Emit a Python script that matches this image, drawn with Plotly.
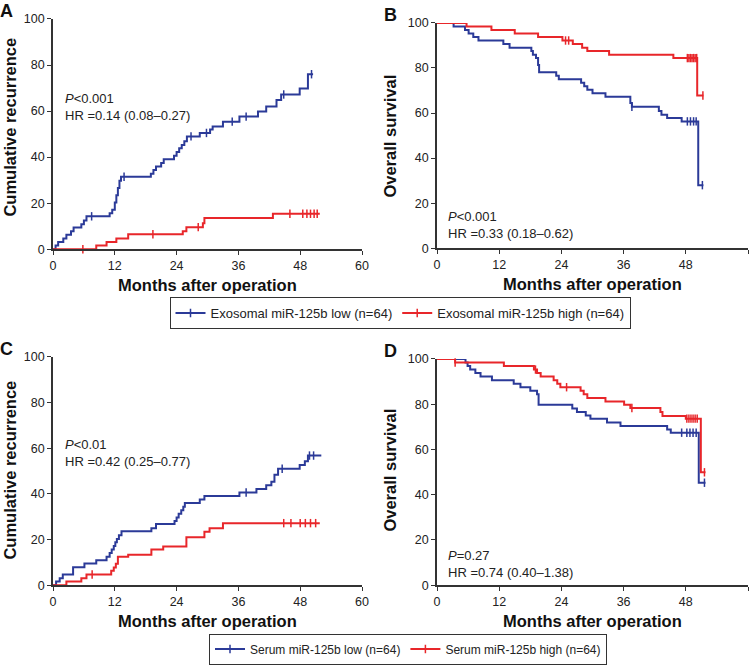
"""
Kaplan-Meier style panels: recurrence and survival by miR-125b level
"""
import plotly.graph_objects as go

W, H = 754, 665
BLUE = '#2b3a98'
RED = '#e8262a'
FONT = 'Arial, Liberation Sans, sans-serif'

# Panel A - cumulative recurrence, exosomal miR-125b
a_low_t = [0, 0.5, 1, 2, 2.6, 3.5, 4, 5.5, 6, 6.5, 11, 11.5, 12, 12.3, 12.6, 12.9, 13.2,
           19, 19.5, 20, 21, 21.5, 23.5, 24, 24.5, 25, 25.5, 26, 28.5, 30.5, 31, 33,
           36.2, 39.8, 41.4, 43.4, 44.3, 47.9, 49.5, 50.5]
a_low_v = [0, 1.6, 3.1, 4.7, 6.3, 7.8, 9.4, 10.9, 12.5, 14.3, 15.6, 17.2, 20.3, 23.4, 26.6, 29.7, 31.5,
           32.8, 34.4, 35.9, 37.5, 39.1, 40.6, 42.2, 43.8, 45.3, 46.9, 49.0, 50.5, 52.0, 53.3, 55.4,
           57.6, 59.8, 62.0, 64.8, 67.2, 69.8, 76.0, 76.0]
a_high_t = [0, 8.4, 10.4, 12.3, 14.6, 25.2, 25.9, 29.1, 29.4, 42.7, 51.8]
a_high_v = [0, 1.6, 3.1, 4.7, 6.5, 7.8, 9.6, 11.3, 13.6, 15.4, 15.4]
a_low_cens = [7.5, 13.8, 26.8, 29.8, 34.8, 37.5, 44.8, 50.2]
a_high_cens = [5.8, 19.4, 28.2, 46.0, 48.5, 49.3, 50.0, 50.7, 51.3]

# Panel B - overall survival, exosomal miR-125b
b_low_t = [0, 3.2, 5.4, 6.1, 7, 8, 12.8, 14, 18.2, 18.5, 19.1, 19.5, 19.7, 23, 23.5,
           27.8, 28.4, 29, 30, 32.5, 37.3, 37.6, 42.8, 43.3, 44.4, 47.2, 50.4, 51.4]
b_low_v = [100, 98.4, 96.9, 95.3, 93.8, 92.2, 90.6, 89.0, 87.5, 85.9, 84.4, 81.3, 78.1, 76.6, 75.0,
           73.4, 71.9, 70.3, 68.8, 67.2, 64.5, 62.8, 60.9, 59.3, 57.8, 56.3, 28.0, 28.0]
b_high_t = [0, 5.7, 10.5, 15, 19.5, 24.2, 26.2, 28, 29, 33.2, 45.6, 50.2, 51.4]
b_high_v = [100, 98.4, 96.9, 95.3, 93.8, 92.2, 90.6, 89.0, 87.5, 85.9, 84.4, 67.8, 67.8]
b_low_cens = [37.6, 48.3, 48.9, 49.5, 50.0, 51.2]
b_high_cens = [24.8, 25.4, 48.3, 48.6, 48.9, 49.2, 49.5, 49.8, 50.1, 51.3]

# Panel C - cumulative recurrence, serum miR-125b
c_low_t = [0, 0.6, 1.3, 1.9, 3.9, 6.1, 8.4, 10.4, 11, 11.4, 11.8, 12.1, 12.4, 12.8, 13.3,
           19.1, 20, 23.6, 24, 24.4, 24.9, 25.3, 25.6, 28.5, 29.4, 36.2, 39.5, 41.4, 42.4,
           43, 43.7, 47.9, 48.9, 49.5, 52.1]
c_low_v = [0, 1.6, 3.1, 4.7, 7.9, 9.5, 10.9, 12.5, 14.1, 15.6, 17.2, 18.8, 20.3, 21.9, 23.6,
           25.0, 26.8, 28.1, 29.7, 31.3, 32.8, 34.4, 36.0, 37.5, 39.1, 40.6, 42.2, 43.8, 45.3,
           48.4, 51.0, 52.7, 54.3, 56.8, 56.8]
c_high_t = [0, 2.6, 5.5, 6.5, 11.3, 11.8, 12.2, 12.6, 14.6, 19.1, 21.4, 25.9, 29.4, 30.4, 33, 51.8]
c_high_v = [0, 1.6, 3.1, 4.7, 6.3, 7.8, 9.4, 12.5, 13.4, 15.6, 17.0, 21.0, 23.4, 25.0, 27.2, 27.2]
c_low_cens = [37.5, 44.5, 49.8, 50.6]
c_high_cens = [7.6, 44.8, 46.2, 48.0, 49.0, 50.0, 51.0]

# Panel D - overall survival, serum miR-125b
d_low_t = [0, 5.5, 5.9, 6.4, 7.4, 8.4, 10.6, 14.8, 16.1, 18, 19.3, 19.6, 26.1, 27, 28.7,
           29.6, 32.8, 35.4, 44.4, 45.1, 50.5, 51.8]
d_low_v = [100, 98.4, 96.9, 95.3, 93.8, 92.2, 90.6, 89.0, 87.5, 85.9, 84.4, 79.8, 78.1, 76.6, 75.0,
           73.6, 71.9, 70.4, 68.8, 67.4, 45.3, 45.3]
d_high_t = [0, 3.5, 12.9, 18.7, 19.3, 20, 22.5, 23.2, 23.8, 27.7, 28.3, 29, 32.5, 36.1,
            37.3, 43.1, 43.5, 48, 50.9, 51.8]
d_high_v = [100, 98.4, 96.9, 95.3, 93.8, 92.2, 90.6, 89.0, 87.5, 85.9, 84.4, 82.7, 81.2, 79.7,
            78.3, 76.6, 74.8, 73.6, 49.9, 49.9]
d_low_cens = [47.2, 48.2, 48.8, 49.4, 50.0, 51.6]
d_high_cens = [3.5, 19.0, 25.0, 37.6, 48.2, 48.6, 49.0, 49.4, 49.8, 50.2, 51.6]

x_ticks = [0, 12, 24, 36, 48, 60]
y_ticks = [0, 20, 40, 60, 80, 100]

panels = [
    dict(key='A', y_title='Cumulative recurrence', stat='<i>P</i>&lt;0.001<br>HR =0.14 (0.08–0.27)',
         low=(a_low_t, a_low_v, a_low_cens), high=(a_high_t, a_high_v, a_high_cens),
         box=(53, 362, 19, 250), stat_pos=(63, 89), ytitle_pos=(10, 128)),
    dict(key='B', y_title='Overall survival', stat='<i>P</i>&lt;0.001<br>HR =0.33 (0.18–0.62)',
         low=(b_low_t, b_low_v, b_low_cens), high=(b_high_t, b_high_v, b_high_cens),
         box=(437, 748, 23, 249), stat_pos=(446, 208), ytitle_pos=(390, 137)),
    dict(key='C', y_title='Cumulative recurrence', stat='<i>P</i>&lt;0.01<br>HR =0.42 (0.25–0.77)',
         low=(c_low_t, c_low_v, c_low_cens), high=(c_high_t, c_high_v, c_high_cens),
         box=(53, 362, 358, 587), stat_pos=(63, 436), ytitle_pos=(10, 472)),
    dict(key='D', y_title='Overall survival', stat='<i>P</i>=0.27<br>HR =0.74 (0.40–1.38)',
         low=(d_low_t, d_low_v, d_low_cens), high=(d_high_t, d_high_v, d_high_cens),
         box=(437, 748, 360, 587), stat_pos=(446, 548), ytitle_pos=(390, 472)),
]


def px_x(x):
    return x / W


def px_y(y):
    return 1 - y / H


def value_at(ts, vs, t):
    # step function lookup
    val = vs[0]
    for ti, vi in zip(ts, vs):
        if ti <= t:
            val = vi
    return val


fig = go.Figure()
annotations = []

for n, p in enumerate(panels, 1):
    suffix = '' if n == 1 else str(n)
    xa, ya = f'x{suffix}', f'y{suffix}'
    for (ts, vs, cens), color in ((p['low'], BLUE), (p['high'], RED)):
        fig.add_trace(go.Scatter(x=ts, y=vs, mode='lines', line=dict(color=color, width=2, shape='hv'),
                                 xaxis=xa, yaxis=ya, showlegend=False, cliponaxis=False,
                                 hoverinfo='skip'))
        fig.add_trace(go.Scatter(x=cens, y=[value_at(ts, vs, c) for c in cens], mode='markers',
                                 marker=dict(symbol='line-ns', size=6, line=dict(color=color, width=1.5)),
                                 xaxis=xa, yaxis=ya, showlegend=False, cliponaxis=False,
                                 hoverinfo='skip'))

    x0, x1, y0, y1 = p['box']
    axis_style = dict(showgrid=False, zeroline=False, showline=True, linecolor='#333', linewidth=1.7,
                      ticks='outside', ticklen=4, tickwidth=1.3, tickcolor='#333',
                      tickfont=dict(family=FONT, size=12.5, color='#222'), automargin=False)
    fig.update_layout({
        f'xaxis{suffix}': dict(domain=[px_x(x0), px_x(x1)], anchor=ya, range=[0, 60],
                               tickvals=x_ticks, **axis_style),
        f'yaxis{suffix}': dict(domain=[px_y(y1), px_y(y0)], anchor=xa, range=[0, 100],
                               tickvals=y_ticks, **axis_style),
    })

    cx = (x0 + x1) / 2
    common = dict(xref='paper', yref='paper', showarrow=False)
    annotations += [
        dict(text=f'<b>{p["key"]}</b>', x=px_x(x0 - 55), y=px_y(y0 - 20), xanchor='left', yanchor='top',
             font=dict(family=FONT, size=18, color='#111'), **common),
        dict(text='<b>Months after operation</b>', x=px_x(cx), y=px_y(y1 + 36), xanchor='center',
             yanchor='middle', font=dict(family=FONT, size=16.5, color='#111'), **common),
        dict(text=f'<b>{p["y_title"]}</b>', x=px_x(p['ytitle_pos'][0]), y=px_y(p['ytitle_pos'][1]),
             textangle=-90, xanchor='center', yanchor='middle',
             font=dict(family=FONT, size=16.5, color='#111'), **common),
        dict(text=p['stat'], x=px_x(p['stat_pos'][0]), y=px_y(p['stat_pos'][1]), xanchor='left',
             yanchor='top', align='left', font=dict(family=FONT, size=13, color='#222'), **common),
    ]

# legend entries
legend_names = [('Exosomal miR-125b low (n=64)', 'Exosomal miR-125b high (n=64)', 'legend'),
                ('Serum miR-125b low (n=64)', 'Serum miR-125b high (n=64)', 'legend2')]
for low_name, high_name, leg in legend_names:
    for name, color in ((low_name, BLUE), (high_name, RED)):
        fig.add_trace(go.Scatter(x=[None], y=[None], mode='lines+markers', name=name, legend=leg,
                                 line=dict(color=color, width=2),
                                 marker=dict(symbol='line-ns', size=6, line=dict(color=color, width=1.5))))

legend_style = dict(orientation='h', xanchor='center', yanchor='middle', bgcolor='white',
                    bordercolor='#333', borderwidth=1, itemwidth=30, tracegroupgap=0)

fig.update_layout(
    width=W, height=H,
    margin=dict(l=0, r=0, t=0, b=0),
    paper_bgcolor='white', plot_bgcolor='white',
    font=dict(family=FONT),
    annotations=annotations,
    legend=dict(x=px_x(400), y=px_y(314), font=dict(family=FONT, size=13, color='#222'), **legend_style),
    legend2=dict(x=px_x(408), y=px_y(651), font=dict(family=FONT, size=12, color='#222'), **legend_style),
)

fig.write_html("out.html", config={'displayModeBar': False},
               post_script="document.body.style.margin='0';")
